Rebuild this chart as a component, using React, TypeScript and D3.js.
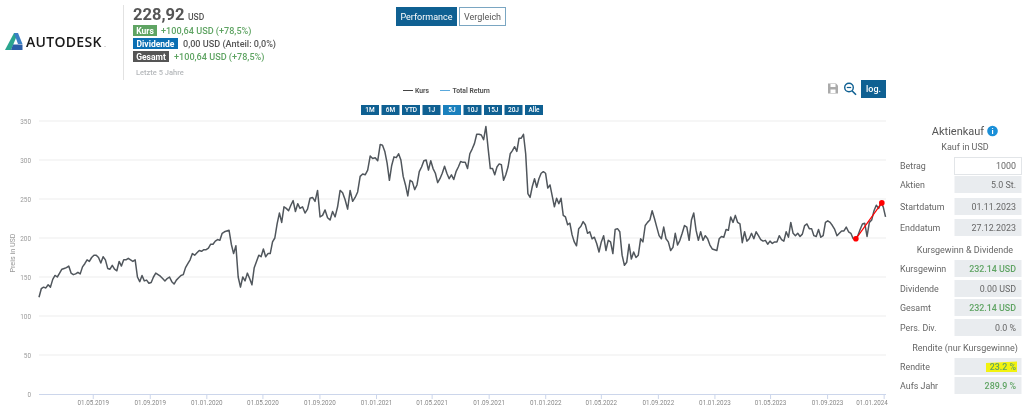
import React from "react";
import * as d3 from "d3";

const FONT = "Roboto, 'Noto Sans', sans-serif";
const yTicks = [0, 50, 100, 150, 200, 250, 300, 350];
const xTickDates = ["2019-05-01","2019-09-01","2020-01-01","2020-05-01","2020-09-01","2021-01-01","2021-05-01","2021-09-01","2022-01-01","2022-05-01","2022-09-01","2023-01-01","2023-05-01","2023-09-01","2024-01-01"];

const kursA = [124,135,137,136,140,137,147,152,150,155,160,161,162,164,155,153,154,156,154,163,167,172,170,175,178,178,175,168,176,172,161,160,165,160,158,170,164,172,172,174,172,170,172,150,144,152,145,146,142,143,150,155,153,151,148,145,148,150,144,141,146,149,152,153,162,167,172,180,178,181,184,183,185,185,187,192,192,196,198,197,206,208,209,210,192,180,190,150,137,150,145,155,148,140,162,170,178,176,186,176,180,180,195,200,218,232,220,240,238,235,242,248,234,244];
const kursB1 = [238,240,232,237,251,252,247,261,227,229,236,226,223,234,227,240,261,258,249,237,261,247,252,259,279,282,281,287,305,302,303,299];
const kursB2 = [320,319,311,296,274,293,304,303,308,300,279,268,254,274,272,262,268,285,291,299,300,287,299,289,283,271,276,283,292,283,276,281,275,285,291,298,297,297,289,308,314,321,333,333,332,326];
const kursB3 = [343,315,289,289,281,291,295,294,274,281,291,308,312,317,311,328,328,333,308,257,252,266,276,265,276,283,285,283,264,268,254,240,251,244,251,229,227,217,219,204,195,190,212,215,221,217,206];
const kursC = [208,199,201,193,182,195,203,184,197,195,180,211,212,208,178,165,169,192,173,182,175,178,199,195,216,220,223,235,225,214,203,199,214,199,195,184,188,206,191,197,206,216,214,197,223,232,210,197,208,197,203,199,191,186,185,184,199,202,201,211,210,227,220,229,220,218,194,208,196,199,206,199,208,203,198,196,197,192,196,193,195,195,203,198,196,208,201,220,206,203,206,202,205,216,218,212,212,203,202,211,201,203,220,222,220,216,211,203,206,209,209,214,208,206,199,199,203,211,218,219,202,220,223,235,242,238,245,240,227];
const kursSegments = [kursA, kursB1, kursB2, kursB3, kursC];
const segStarts = ["2019-01-04","2020-07-20","2021-01-09","2021-08-25","2022-04-06"];
const segEnds = ["2020-07-20","2021-01-09","2021-08-25","2022-04-06","2024-01-04"];

const tradeDates = ["2023-11-01","2023-12-27"];
const tradeValues = [199,245];

const rangeButtons = ["1M","6M","YTD","1J","5J","10J","15J","20J","Alle"];
const legendItems = ["Kurs","Total Return"];
const kaufRows = [["Betrag","1000"],["Aktien","5.0 St."],["Startdatum","01.11.2023"],["Enddatum","27.12.2023"]];
const gewinnRows = [["Kursgewinn","232.14 USD"],["Dividende","0.00 USD"],["Gesamt","232.14 USD"],["Pers. Div.","0.0 %"]];
const renditeRows = [["Rendite","23.2 %"],["Aufs Jahr","289.9 %"]];

const d = (s: string) => new Date(s + "T00:00:00Z");
const fmt = d3.utcFormat("%d.%m.%Y");

const GREEN = "#5fa463";
const NAVY = "#0f6092";

function Row({ y0, h, label, value, color, white, weight }: any) {
  return (
    <g>
      <text x={900} y={y0 + h / 2 + 3} fontSize={8.9} fill="#666">{label}</text>
      <rect x={954.5} y={y0} width={67} height={h} fill={white ? "#fff" : "#e9ecef"} stroke={white ? "#e2e5e8" : "none"} />
      <text x={1016} y={y0 + h / 2 + 3.3} fontSize={8.9} textAnchor="end" fill={color || "#666"} fontWeight={weight || 400}>{value}</text>
    </g>
  );
}

export default function App() {
  const x = d3.scaleUtc().domain([d("2019-01-04"), d("2024-01-05")]).range([39, 886]);
  const y = d3.scaleLinear().domain([0, 350]).range([394, 121]);
  const points: { date: Date; value: number }[] = [];
  kursSegments.forEach((vals, s) => {
    const last = s === kursSegments.length - 1;
    const t = d3.scaleLinear().domain([0, last ? vals.length - 1 : vals.length]).range([+d(segStarts[s]), +d(segEnds[s])]);
    vals.forEach((v, i) => points.push({ date: new Date(t(i)), value: v }));
  });
  const line = d3.line<{ date: Date; value: number }>().x(p => x(p.date)).y(p => y(p.value));
  const trade = tradeDates.map((t, i) => ({ date: d(t), value: tradeValues[i] }));

  const btnX = [361, 381.5, 402, 422.5, 443, 463.5, 484, 504.5, 525];
  const yKauf = [157.5, 176, 198, 219];
  const yGew = [260, 280, 299, 319];
  const yRen = [358, 377];

  return (
    <svg width={1024} height={408} style={{ position: "absolute", left: 0, top: 0, display: "block", filter: "blur(0.35px)" }} fontFamily={FONT}>
      <rect width={1024} height={408} fill="#fff" />
      {/* logo */}
      <polygon points="5,50 14,33 18,33 11,50" fill="#2aa58f" />
      <polygon points="14,33 18,33 22.5,44 18,44" fill="#3a7fc4" />
      <polygon points="11,50 13,44.5 22.5,44.5 22.5,50" fill="#2a5ea8" />
      <text x={26} y={46.5} fontSize={14} fontWeight={600} fill="#1a1a1a" fontFamily="'Open Sans', sans-serif" letterSpacing={0.3}>AUTODESK</text>
      <text x={104} y={46.5} fontSize={8} fill="#888">.</text>
      <line x1={123.5} x2={123.5} y1={5} y2={80} stroke="#e2e2e2" />
      {/* headline */}
      <text x={133} y={20} fontSize={16.5} fontWeight={700} fill="#555">228,92</text>
      <text x={188} y={19.5} fontSize={8.5} fontWeight={500} fill="#555">USD</text>
      <rect x={133} y={25} width={24} height={11} fill={GREEN} />
      <text x={145} y={33.5} fontSize={8.5} fontWeight={700} fill="#fff" textAnchor="middle">Kurs</text>
      <text x={161} y={33.5} fontSize={9.1} fontWeight={500} fill={GREEN}>+100,64 USD (+78,5%)</text>
      <rect x={133} y={38} width={45} height={11} fill="#0b6fb3" />
      <text x={155.5} y={46.7} fontSize={8.5} fontWeight={700} fill="#fff" textAnchor="middle">Dividende</text>
      <text x={183} y={46.7} fontSize={9.1} fontWeight={500} fill="#555">0,00 USD (Anteil: 0,0%)</text>
      <rect x={133} y={51} width={36} height={11} fill="#555" />
      <text x={151} y={59.8} fontSize={8.5} fontWeight={700} fill="#fff" textAnchor="middle">Gesamt</text>
      <text x={174} y={59.8} fontSize={9.1} fontWeight={500} fill={GREEN}>+100,64 USD (+78,5%)</text>
      <text x={136} y={74.5} fontSize={7.5} fontWeight={500} fill="#b5b8bb">Letzte 5 Jahre</text>
      {/* toggle buttons */}
      <rect x={396} y={7} width={61} height={19} fill={NAVY} />
      <text x={426.5} y={19.5} fontSize={9} fill="#fff" textAnchor="middle">Performance</text>
      <rect x={459.5} y={7.5} width={46} height={18} fill="#fff" stroke="#7aa6c2" />
      <text x={482.5} y={19.5} fontSize={9} fill="#555" textAnchor="middle">Vergleich</text>
      {/* legend */}
      <line x1={403} x2={413} y1={90.5} y2={90.5} stroke="#444" strokeWidth={1} />
      <text x={415} y={93} fontSize={6.8} fontWeight={700} fill="#555">{legendItems[0]}</text>
      <line x1={440} x2={450} y1={90.5} y2={90.5} stroke="#5aa9dd" strokeWidth={1} />
      <text x={452.5} y={93} fontSize={6.8} fontWeight={700} fill="#555">{legendItems[1]}</text>
      {/* range buttons */}
      {rangeButtons.map((b, i) => (
        <g key={b}>
          <rect x={btnX[i]} y={105} width={18} height={10} fill={b === "5J" ? "#1a80bd" : NAVY} />
          <text x={btnX[i] + 9} y={112.3} fontSize={6.5} fontWeight={500} fill="#fff" textAnchor="middle">{b}</text>
        </g>
      ))}
      {/* tools */}
      <path d="M828 83.5h8l2 2v8h-10z" fill="#aaa" />
      <rect x={830.5} y={84} width={5} height={3} fill="#fff" />
      <rect x={830.5} y={89.5} width={5} height={3.5} fill="#fff" />
      <circle cx={849} cy={87.5} r={4.3} fill="none" stroke={NAVY} strokeWidth={1.4} />
      <line x1={846.8} x2={851.2} y1={87.5} y2={87.5} stroke={NAVY} strokeWidth={1.2} />
      <line x1={852} x2={856} y1={90.8} y2={94.8} stroke={NAVY} strokeWidth={1.6} />
      <rect x={861} y={80} width={25} height={18} fill={NAVY} />
      <text x={873.5} y={91.5} fontSize={9} fontWeight={500} fill="#fff" textAnchor="middle">log.</text>
      {/* grid */}
      {yTicks.map(t => (
        <g key={t}>
          {t > 0 && <line x1={39} x2={886} y1={y(t)} y2={y(t)} stroke="#f3f3f3" strokeWidth={1.4} />}
          <text x={31} y={y(t) + 2.5} fontSize={6.4} fill="#999" textAnchor="end">{t}</text>
        </g>
      ))}
      <line x1={39} x2={886} y1={394.5} y2={394.5} stroke="#ccd6eb" />
      {xTickDates.map((t, i) => (
        <g key={t}>
          <line x1={x(d(t))} x2={x(d(t))} y1={394.5} y2={399} stroke="#ccd6eb" />
          <text x={i === xTickDates.length - 1 ? 872 : x(d(t))} y={404.5} fontSize={6.3} fill="#888" textAnchor="middle">{fmt(d(t))}</text>
        </g>
      ))}
      <text transform="translate(15,253) rotate(-90)" fontSize={7.2} fill="#999" textAnchor="middle">Preis in USD</text>
      {/* series */}
      <path d={line(points) || ""} fill="none" stroke="#50565c" strokeWidth={1.5} strokeLinejoin="round" />
      <path d={line(trade) || ""} fill="none" stroke="#f00" strokeWidth={1.2} />
      {trade.map(p => <circle key={p.value} cx={x(p.date)} cy={y(p.value)} r={2.8} fill="#f00" />)}
      {/* panel */}
      <text x={958} y={135} fontSize={11} fill="#555" textAnchor="middle">Aktienkauf</text>
      <circle cx={992.5} cy={131} r={5.3} fill="#1a8fd8" />
      <text x={992.5} y={134} fontSize={8} fontWeight={700} fill="#fff" textAnchor="middle">i</text>
      <text x={965} y={150} fontSize={9} fill="#666" textAnchor="middle">Kauf in USD</text>
      {kaufRows.map((r, i) => <Row key={r[0]} y0={yKauf[i]} h={17} label={r[0]} value={r[1]} white={i === 0} />)}
      <text x={965} y={253} fontSize={9} fill="#666" textAnchor="middle">Kursgewinn &amp; Dividende</text>
      {gewinnRows.map((r, i) => <Row key={r[0]} y0={yGew[i]} h={17} label={r[0]} value={r[1]} color={i % 2 === 0 ? GREEN : undefined} weight={i % 2 === 0 ? 500 : 400} />)}
      <text x={965} y={351} fontSize={9} fill="#666" textAnchor="middle">Rendite (nur Kursgewinne)</text>
      {renditeRows.map((r, i) => (
        <g key={r[0]}>
          <Row y0={yRen[i]} h={17} label={r[0]} value="" />
          {i === 0 && <polygon points="986,363 1017,361.5 1017,372 986,372" fill="#f2f20f" />}
          <text x={1016} y={yRen[i] + 11.8} fontSize={8.9} textAnchor="end" fill={GREEN} fontWeight={500}>{r[1]}</text>
        </g>
      ))}
    </svg>
  );
}
